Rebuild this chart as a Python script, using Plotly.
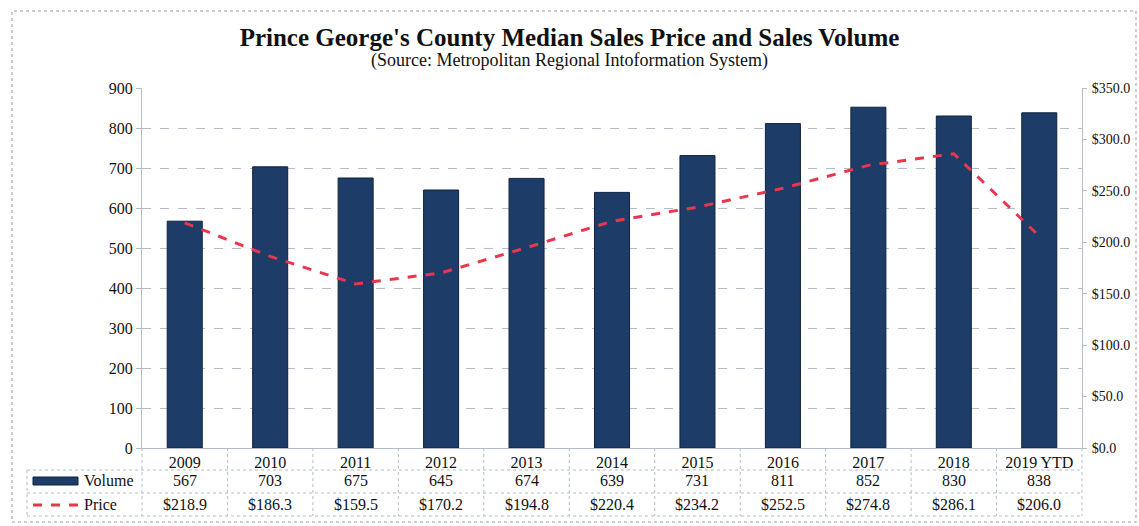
import plotly.graph_objects as go

years = ["2009", "2010", "2011", "2012", "2013", "2014", "2015", "2016", "2017", "2018", "2019 YTD"]
volume = [567, 703, 675, 645, 674, 639, 731, 811, 852, 830, 838]
price = [218.9, 186.3, 159.5, 170.2, 194.8, 220.4, 234.2, 252.5, 274.8, 286.1, 206.0]
left_ticks = [0, 100, 200, 300, 400, 500, 600, 700, 800, 900]
right_ticks = [0, 50, 100, 150, 200, 250, 300, 350]

W, H = 1139, 526
L, R, T, B = 142, 57, 88, 78
PW, PH = W - L - R, H - T - B
N = len(years)

def px_x(p):
    return (p - L) / PW

def px_y(p):
    return (H - B - p) / PH

SERIF = "Liberation Serif, Times New Roman, serif"
NAVY = "#1d3c68"
RED = "#e8364f"
GRID = "#b3bccb"
TXT = "#111111"

fig = go.Figure()
fig.add_trace(go.Bar(x=years, y=volume, name="Volume",
                     marker=dict(color=NAVY, line=dict(color="#0f2340", width=1)),
                     width=0.41, showlegend=False))
fig.add_trace(go.Scatter(x=years, y=price, name="Price", yaxis="y2", mode="lines",
                         line=dict(color=RED, width=3, dash="dash"), showlegend=False))

shapes = []
ann = []

# data table rows
row_vol = px_y(481)
row_price = px_y(505)
for i, yr in enumerate(years):
    cx = (i + 0.5) / N
    ann.append(dict(x=cx, y=row_vol, xref="paper", yref="paper", text=str(volume[i]), showarrow=False,
                    xanchor="center", yanchor="middle", font=dict(family=SERIF, size=16, color=TXT)))
    ann.append(dict(x=cx, y=row_price, xref="paper", yref="paper", text=f"${price[i]:.1f}", showarrow=False,
                    xanchor="center", yanchor="middle", font=dict(family=SERIF, size=16, color=TXT)))

line_style = dict(color=GRID, width=1, dash="dot")
for yy in (470, 493, 516):
    shapes.append(dict(type="line", xref="paper", yref="paper", x0=px_x(27), x1=1,
                       y0=px_y(yy), y1=px_y(yy), line=line_style))
for i in range(N + 1):
    xb = i / N
    shapes.append(dict(type="line", xref="paper", yref="paper", x0=xb, x1=xb,
                       y0=0, y1=px_y(516), line=line_style))
shapes.append(dict(type="line", xref="paper", yref="paper", x0=px_x(27), x1=px_x(27),
                   y0=px_y(470), y1=px_y(516), line=line_style))

# legend keys in table
shapes.append(dict(type="rect", xref="paper", yref="paper", x0=px_x(33), x1=px_x(78),
                   y0=px_y(485), y1=px_y(477), fillcolor=NAVY, line=dict(color="#0f2340", width=1)))
shapes.append(dict(type="line", xref="paper", yref="paper", x0=px_x(33), x1=px_x(78),
                   y0=px_y(505), y1=px_y(505), line=dict(color=RED, width=3, dash="dash")))
ann.append(dict(x=px_x(82), y=row_vol, xref="paper", yref="paper", text="Volume", showarrow=False,
                xanchor="left", yanchor="middle", font=dict(family=SERIF, size=16, color=TXT)))
ann.append(dict(x=px_x(82), y=row_price, xref="paper", yref="paper", text="Price", showarrow=False,
                xanchor="left", yanchor="middle", font=dict(family=SERIF, size=16, color=TXT)))

# outer frame
shapes.append(dict(type="rect", xref="paper", yref="paper", x0=px_x(12), x1=px_x(1136),
                   y0=px_y(522), y1=px_y(11),
                   line=dict(color="#b8bec8", width=1.5, dash="dot"), fillcolor="rgba(0,0,0,0)", layer="below"))

# subtitle
ann.append(dict(x=0.5 * (px_x(0) + px_x(W)), y=px_y(60), xref="paper", yref="paper",
                text="(Source: Metropolitan Regional Intoformation System)", showarrow=False,
                xanchor="center", yanchor="middle", font=dict(family=SERIF, size=18, color=TXT)))

fig.update_layout(
    width=W, height=H,
    margin=dict(l=L, r=R, t=T, b=B, pad=0, autoexpand=False),
    paper_bgcolor="white", plot_bgcolor="white",
    title=dict(text="<b>Prince George's County Median Sales Price and Sales Volume</b>",
               x=0.5, xanchor="center", y=1 - 37 / H, yanchor="middle", yref="container",
               font=dict(family=SERIF, size=25, color=TXT)),
    xaxis=dict(type="category", categoryorder="array", categoryarray=years, range=[-0.5, N - 0.5],
               showgrid=False, showline=True, linecolor=GRID, ticks="", automargin=False,
               tickfont=dict(family=SERIF, size=16, color=TXT)),
    yaxis=dict(range=[0, 900], tickvals=left_ticks, showgrid=True, gridcolor=GRID, griddash="dash", gridwidth=1,
               showline=True, linecolor=GRID, ticks="outside", ticklen=5, tickcolor=GRID, automargin=False,
               tickfont=dict(family=SERIF, size=16, color=TXT), zeroline=False),
    yaxis2=dict(range=[0, 350], tickvals=right_ticks, ticktext=[f"${v:.1f}" for v in right_ticks],
                overlaying="y", side="right", showgrid=False, automargin=False,
                showline=True, linecolor=GRID, ticks="outside", ticklen=4, tickcolor=GRID,
                ticklabelstandoff=2,
                tickfont=dict(family=SERIF, size=14, color=TXT), zeroline=False),
    shapes=shapes, annotations=ann,
)

fig.write_html("out.html")
